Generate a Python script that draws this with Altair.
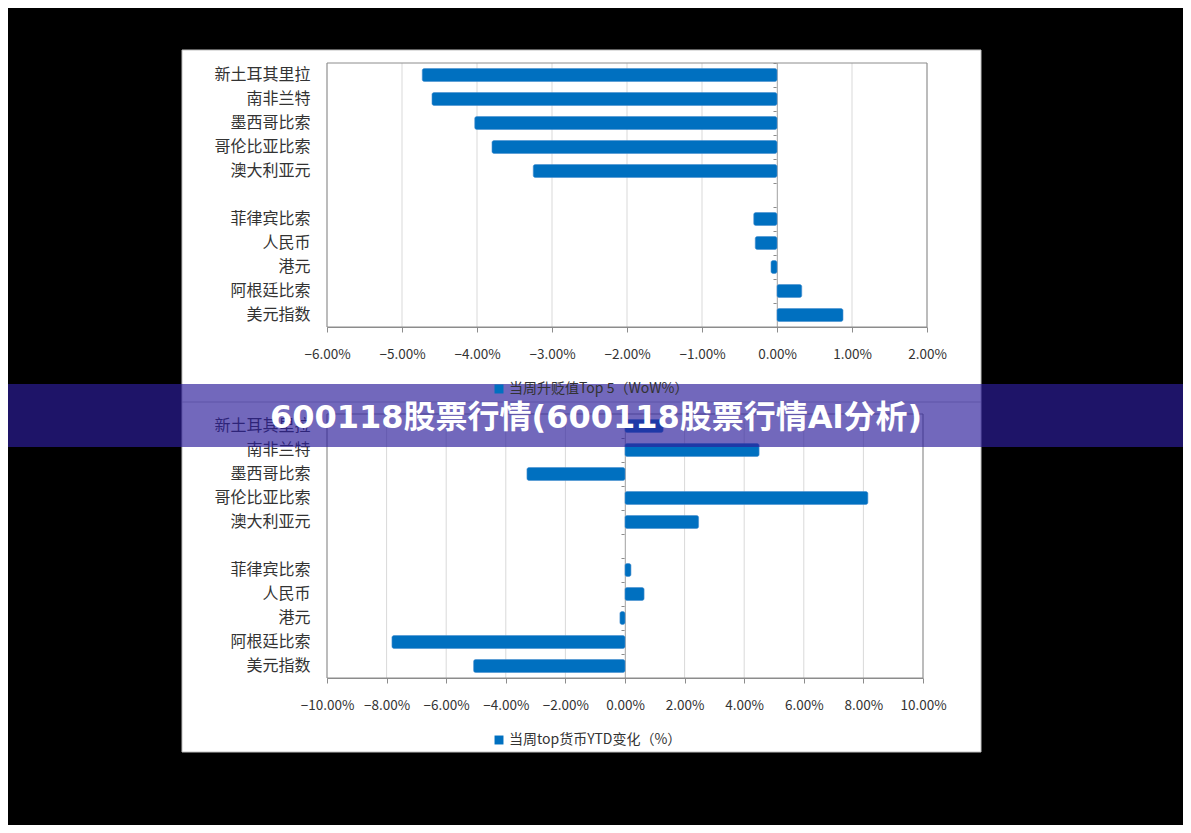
import altair as alt
import pandas as pd

# ---------------- data ----------------
categories = ["新土耳其里拉", "南非兰特", "墨西哥比索", "哥伦比亚比索", "澳大利亚元",
              "菲律宾比索", "人民币", "港元", "阿根廷比索", "美元指数"]
wow_values = [-4.73, -4.60, -4.03, -3.80, -3.25, -0.31, -0.29, -0.08, 0.33, 0.88]
ytd_values = [1.28, 4.50, -3.29, 8.15, 2.47, 0.20, 0.64, -0.17, -7.82, -5.08]
row_order = categories[:5] + [" "] + categories[5:]
wow_ticks = [-6, -5, -4, -3, -2, -1, 0, 1, 2]
ytd_ticks = [-10, -8, -6, -4, -2, 0, 2, 4, 6, 8, 10]
wow_series = "当周升贬值Top 5（WoW%）"
ytd_series = "当周top货币YTD变化（%）"
title_text = "600118股票行情(600118股票行情Al分析)"

# ---------------- style / layout ----------------
W, H = 1175, 817
FONT = "Noto Sans CJK SC"
AXC = "#8c8c8c"
GRID = "#d9d9d9"
TXT = "#333333"
BLUE = "#0070c0"
PX0, PX1, PY0, PY1 = 174, 973, 42, 744   # white panel

TOP = dict(x0=319, x1=919, y0=55, y1=319, lx=484, ly=374)
BOT = dict(x0=319, x1=915, y0=406, y1=670, lx=484, ly=725)

one = pd.DataFrame({"k": [0]})


def box(x, x2, y, y2, **kw):
    return alt.Chart(one).mark_rect(**kw).encode(
        x=alt.value(x), x2=alt.value(x2), y=alt.value(y), y2=alt.value(y2))


def make_panel(values, ticks, series, g):
    df = pd.DataFrame({"cat": categories, "v": values, "series": series})
    tdf = pd.DataFrame({"t": ticks})
    lo, hi = ticks[0], ticks[-1]
    xs = alt.Scale(domain=[lo, hi], range=[g["x0"], g["x1"]], nice=False)
    ys = alt.Scale(domain=row_order, range=[g["y0"], g["y1"]], paddingInner=0, paddingOuter=0)
    zero_px = g["x0"] + (0 - lo) / (hi - lo) * (g["x1"] - g["x0"])

    grid = alt.Chart(tdf).mark_rule(color=GRID, strokeWidth=1).encode(
        x=alt.X("t:Q", scale=xs, axis=alt.Axis(
            orient="bottom", offset=g["y1"] - H, values=ticks,
            labelExpr="format(datum.value, '.2f') + '%'",
            grid=False, domain=True, domainColor=AXC, ticks=True, tickColor=AXC,
            tickSize=5, labelPadding=15, labelFontSize=13.5, labelFont=FONT,
            labelColor=TXT, title=None, labelFlush=False, labelOverlap=False)),
        y=alt.value(g["y0"]), y2=alt.value(g["y1"]))

    frame = alt.Chart(one).mark_rect(fillOpacity=0, stroke=AXC, strokeWidth=1).encode(
        x=alt.XDatum(lo, type="quantitative", scale=xs, axis=None),
        x2=alt.X2Datum(hi),
        y=alt.value(g["y0"]), y2=alt.value(g["y1"]))

    bars = alt.Chart(df).mark_bar(size=13, cornerRadius=2, stroke="#4a90d0", strokeWidth=0.6).encode(
        x=alt.X("v:Q", scale=xs, axis=None),
        x2=alt.X2Datum(0),
        y=alt.Y("cat:N", scale=ys, axis=alt.Axis(
            orient="left", offset=-g["x0"], domain=False, ticks=False, tickSize=0,
            labelPadding=17, labelFontSize=16, labelFont=FONT, labelColor=TXT,
            title=None, labelLimit=0, grid=False)),
        color=alt.Color("series:N", scale=alt.Scale(range=[BLUE]), legend=alt.Legend(
            orient="none", legendX=g["lx"], legendY=g["ly"], title=None,
            symbolType="square", symbolSize=80, symbolStrokeWidth=0,
            labelFontSize=14, labelFont=FONT, labelColor=TXT, padding=0,
            labelOffset=3, labelLimit=0)))

    zero_axis = alt.Chart(df).mark_point(opacity=0).encode(
        x=alt.XDatum(0, type="quantitative", scale=xs, axis=None),
        y=alt.Y("cat:N", scale=ys, axis=alt.Axis(
            orient="left", offset=-zero_px, labels=False, domain=True, domainColor=AXC,
            ticks=True, tickColor=AXC, tickSize=4, tickBand="extent", grid=False,
            title=None)))

    return [grid, frame, bars, zero_axis]


surround = [
    box(0, W, 0, PY0, fill="black"),
    box(0, W, PY1, H, fill="black"),
    box(0, PX0, PY0, PY1, fill="black"),
    box(PX1, W, PY0, PY1, fill="black"),
    box(PX0, PX1, PY0, PY1, fillOpacity=0, stroke="#c0c0c0", strokeWidth=1),
]
divider = alt.Chart(one).mark_rule(color="#c0c0c0", strokeWidth=1).encode(
    x=alt.value(PX0), x2=alt.value(PX1), y=alt.value(394))

banner = box(0, W, 376, 439, fill="#2d1e9b", opacity=0.67)
banner_text = alt.Chart(one).mark_text(
    text=title_text, font="DejaVu Sans, Noto Sans CJK SC", fontSize=32, fontWeight="bold",
    color="white", align="center", baseline="middle").encode(
    x=alt.value(588), y=alt.value(410))

layers = surround + [divider] + make_panel(wow_values, wow_ticks, wow_series, TOP) \
    + make_panel(ytd_values, ytd_ticks, ytd_series, BOT) + [banner, banner_text]

chart = alt.layer(*layers).resolve_scale(
    x="independent", y="independent", color="independent"
).resolve_axis(
    x="independent", y="independent"
).resolve_legend(
    color="independent"
).properties(
    width=W, height=H, padding=0,
    autosize=alt.AutoSizeParams(type="none"),
    background="white",
).configure_view(strokeWidth=0)

chart.save("out.html", embed_options={"renderer": "svg", "actions": False})
